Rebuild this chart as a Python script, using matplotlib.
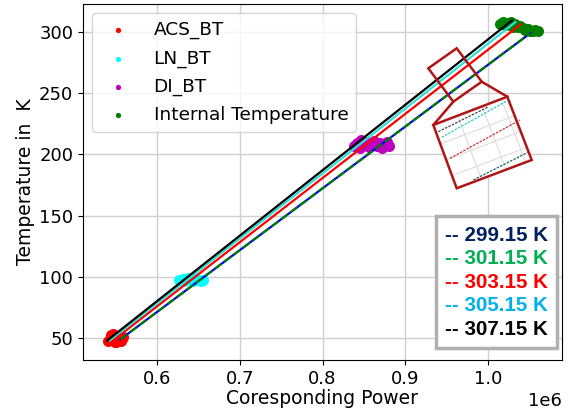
import matplotlib
matplotlib.use('Agg')
import matplotlib.pyplot as plt
from matplotlib.patches import Polygon
from matplotlib.lines import Line2D

# fitted lines: (power, temperature) end points
line_labels = ['299.15 K', '301.15 K', '303.15 K', '305.15 K', '307.15 K']
line_p = {
    '307.15 K': [0.540e6, 1.029e6],
    '305.15 K': [0.543e6, 1.033e6],
    '303.15 K': [0.547e6, 1.040e6],
    '301.15 K': [0.556e6, 1.051e6],
    '299.15 K': [0.556e6, 1.051e6],
}
line_t = {
    '307.15 K': [48, 309.5],
    '305.15 K': [48, 308],
    '303.15 K': [48, 306.5],
    '301.15 K': [49, 299],
    '299.15 K': [49, 299],
}

# measured points
acs_p = [0.541, 0.543, 0.545, 0.546, 0.548, 0.549, 0.550, 0.552, 0.553, 0.555,
         0.556, 0.558, 0.545, 0.551, 0.559, 0.547]
acs_t = [47.5, 49, 50.5, 48, 51, 47, 49.5, 52, 48.5, 50, 47.8, 49.2, 52.5, 46.8, 50.8, 53]
ln_p = [0.627, 0.631, 0.635, 0.638, 0.641, 0.644, 0.647, 0.650, 0.653, 0.656, 0.633, 0.645]
ln_t = [97.5, 98.5, 97, 99, 97.8, 96.5, 98.2, 97, 96.8, 97.5, 96.8, 99.2]
di_p = [0.838, 0.842, 0.845, 0.848, 0.850, 0.853, 0.856, 0.858, 0.862, 0.866,
        0.869, 0.872, 0.875, 0.878, 0.880, 0.846]
di_t = [207, 209, 205, 211, 207.5, 210, 206, 208.5, 211, 207, 209.5, 205.5, 208,
        210.5, 206.5, 212]
int_p = [1.015, 1.018, 1.021, 1.024, 1.027, 1.030, 1.033, 1.036, 1.039, 1.042,
         1.045, 1.048, 1.051, 1.054, 1.057, 1.060, 1.028]
int_t = [306.5, 308, 305.5, 307.5, 306, 304.5, 306.5, 303.8, 305, 303, 301.5,
         302.5, 301, 300.5, 302, 301, 308]

text_colors = {'299.15 K': '#002060', '301.15 K': '#00B050', '303.15 K': '#FF0000',
               '305.15 K': '#00B0F0', '307.15 K': '#000000'}

fig = plt.figure(figsize=(5.73, 4.12), dpi=100)
ax = fig.add_axes([83/573, 52/412, 479/573, 356/412])

ax.scatter([p*1e6 for p in acs_p], acs_t, s=48, color='red', label='ACS_BT', zorder=2)
ax.scatter([p*1e6 for p in ln_p], ln_t, s=48, color='cyan', label='LN_BT', zorder=2)
ax.scatter([p*1e6 for p in di_p], di_t, s=48, color='m', label='DI_BT', zorder=2)
ax.scatter([p*1e6 for p in int_p], int_t, s=48, color='green', label='Internal Temperature', zorder=2)

ax.plot(line_p['299.15 K'], line_t['299.15 K'], color='blue', lw=1.6, zorder=3)
ax.plot(line_p['301.15 K'], line_t['301.15 K'], color='green', lw=1.6, ls='--', zorder=3)
ax.plot(line_p['303.15 K'], line_t['303.15 K'], color='red', lw=1.6, zorder=3)
ax.plot(line_p['305.15 K'], line_t['305.15 K'], color='#30E0D8', lw=1.6, zorder=3)
ax.plot(line_p['307.15 K'], line_t['307.15 K'], color='black', lw=1.6, zorder=3)

ax.set_xlim(0.5106e6, 1.0894e6)
ax.set_ylim(32.0, 322.9)
ax.set_xticks([0.6e6, 0.7e6, 0.8e6, 0.9e6, 1.0e6])
ax.set_yticks([50, 100, 150, 200, 250, 300])
ax.grid(True, color='#d0d0d0', lw=1.0)
ax.tick_params(labelsize=13)
ax.xaxis.get_offset_text().set_fontsize(13)
ax.set_xlabel('Coresponding Power', fontsize=13.5, labelpad=1)
ax.set_ylabel('Temperature in  K', fontsize=13.5, labelpad=3)

leg1 = ax.legend(loc='upper left', fontsize=13.3, markerscale=0.4, labelspacing=0.55,
                 borderaxespad=0.5, handletextpad=0.9, borderpad=0.42)
ax.add_artist(leg1)

# colored text box
handles = [Line2D([], [], ls='none') for _ in line_labels]
leg2 = ax.legend(handles, ['-- ' + l for l in line_labels], loc='lower right',
                 bbox_to_anchor=(0.9896, 0.0337), borderaxespad=0,
                 handlelength=0, handletextpad=0, labelspacing=0.22,
                 fancybox=False, framealpha=1, borderpad=0.45,
                 prop={'family': 'Liberation Sans', 'weight': 'bold', 'size': 14.8})
leg2.get_frame().set_edgecolor('#b0b0b0')
leg2.get_frame().set_linewidth(2.5)
for txt, l in zip(leg2.get_texts(), line_labels):
    txt.set_color(text_colors[l])


# zoom annotation drawn in image pixel coordinates
def px(x, y):
    return (x / 573, 1 - y / 412)


frame_red = '#B01515'
small = [px(428.3, 68.3), px(456.7, 48.3), px(481.7, 81.7), px(453.3, 101.7)]
big = [px(433.3, 125), px(507.3, 96.7), px(531.7, 160), px(456.7, 188.3)]
fig.add_artist(Polygon(big, closed=True, facecolor='white', edgecolor='none',
                       transform=fig.transFigure, zorder=5))

# light grid inside the zoom box
def lerp(a, b, f):
    return (a[0] + (b[0] - a[0]) * f, a[1] + (b[1] - a[1]) * f)


for f in [0.33, 0.66, 0.92]:
    p1, p2 = lerp(big[0], big[1], f), lerp(big[3], big[2], f)
    fig.add_artist(Line2D([p1[0], p2[0]], [p1[1], p2[1]], color='#dcdcdc', lw=0.8,
                          transform=fig.transFigure, zorder=5))
for f in [0.3, 0.55, 0.8]:
    p1, p2 = lerp(big[0], big[3], f), lerp(big[1], big[2], f)
    fig.add_artist(Line2D([p1[0], p2[0]], [p1[1], p2[1]], color='#dcdcdc', lw=0.8,
                          transform=fig.transFigure, zorder=5))

zoom_lines = [((438.3, 131.7), (488, 107), '#444444'),
              ((441.7, 137.3), (507.3, 100.7), '#30C8C8'),
              ((450, 158.3), (520, 120), '#D03030'),
              ((473.3, 180), (527.5, 152.5), '#206060')]
for a, b, c in zoom_lines:
    pa, pb = px(*a), px(*b)
    fig.add_artist(Line2D([pa[0], pb[0]], [pa[1], pb[1]], color=c, lw=0.9, ls='--',
                          dashes=(2, 1), transform=fig.transFigure, zorder=6))

for poly in [small, big]:
    fig.add_artist(Polygon(poly, closed=True, facecolor='none', edgecolor=frame_red,
                           lw=1.8, transform=fig.transFigure, zorder=7))
for a, b in [(small[3], big[0]), (small[2], big[1])]:
    fig.add_artist(Line2D([a[0], b[0]], [a[1], b[1]], color=frame_red, lw=1.8,
                          transform=fig.transFigure, zorder=7))

fig.savefig('out.png', dpi=100)
